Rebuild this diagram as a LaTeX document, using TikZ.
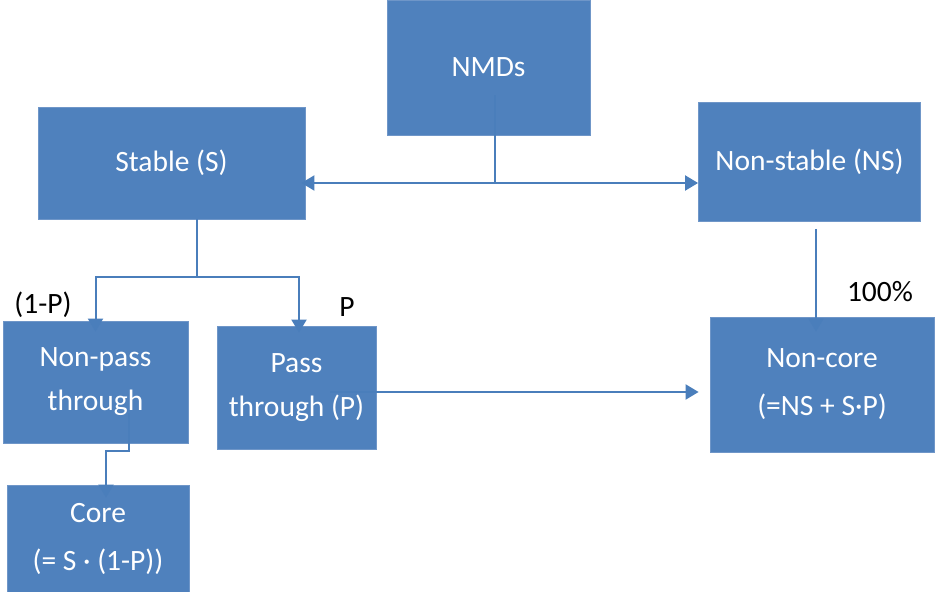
\documentclass[tikz,border=0pt]{standalone}
\usepackage{fontspec}
\setmainfont{Carlito}
\usetikzlibrary{arrows.meta,calc}
\definecolor{boxblue}{HTML}{4F81BD}
\definecolor{edgeblue}{HTML}{6F96C8}
\definecolor{lineblue}{HTML}{4A7EBB}
\tikzset{
  box/.style={rectangle, fill=boxblue, draw=edgeblue, line width=0.8pt, inner sep=0pt,
    text=white, align=center},
  conn/.style={draw=lineblue, line width=2pt},
  arr/.style={conn, -{Triangle[length=13pt,width=15pt]}},
  lbl/.style={text=black, inner sep=0pt}
}
\begin{document}
\begin{tikzpicture}[x=1pt,y=-1pt,font=\fontsize{29.5}{44}\selectfont]
\useasboundingbox (0,0) rectangle (935,592);
\node[box, minimum width=203pt, minimum height=135pt] (nmd) at (488.5,67.5) {NMDs};
\node[box, minimum width=267pt, minimum height=112pt] (st) at (171.5,163) {Stable (S)};
\node[box, minimum width=222pt, minimum height=119pt] (ns) at (809.5,162) {Non-stable (NS)};
\node[box, minimum width=185pt, minimum height=122pt] (np) at (95.5,382) {Non-pass\\through};
\node[box, minimum width=159pt, minimum height=123pt] (pt) at (296.5,387.5) {Pass\\through (P)};
\node[box, minimum width=182pt, minimum height=107pt, font=\fontsize{29.5}{48}\selectfont] (core) at (98,538.5) {Core\\(= S · (1-P))};
\node[box, minimum width=224pt, minimum height=135pt, font=\fontsize{29.5}{48}\selectfont] (nc) at (822,384.5) {Non-core\\(=NS + S·P)};

\node[lbl] (l1p) at (43,305) {(1-P)};
\node[lbl] (lp) at (347,307) {P};
\node[lbl] (l100) at (880,292) {100\%};

% NMDs split
\coordinate (j1) at (495,183);
\draw[conn] ([xshift=6.5pt,yshift=40pt]nmd.south) -- (j1);
\draw[arr] (j1) -- ([xshift=-4pt]j1 -| st.east);
\draw[arr] (j1) -- (j1 -| ns.west);

% Stable split
\coordinate (j2) at (197,277);
\draw[conn] (st.south -| j2) -- (j2);
\draw[arr] (j2) -| ([yshift=-11pt]np.north);
\draw[arr] (j2) -| ([xshift=2.5pt,yshift=-7pt]pt.north);

% Non-pass through to Core
\draw[arr] ([xshift=33.5pt,yshift=-31pt]np.center) -- ++(0,38) -| ([xshift=8pt,yshift=-13pt]core.north);

% Non-stable to Non-core
\draw[arr] ([xshift=6.5pt,yshift=-7pt]ns.south) -- ([xshift=-6pt,yshift=-15pt]nc.north);

% Pass through to Non-core
\draw[arr] ([xshift=33.5pt,yshift=-4.5pt]pt.center) -- ([xshift=-11pt,yshift=-7.5pt]nc.west);
\end{tikzpicture}
\end{document}
